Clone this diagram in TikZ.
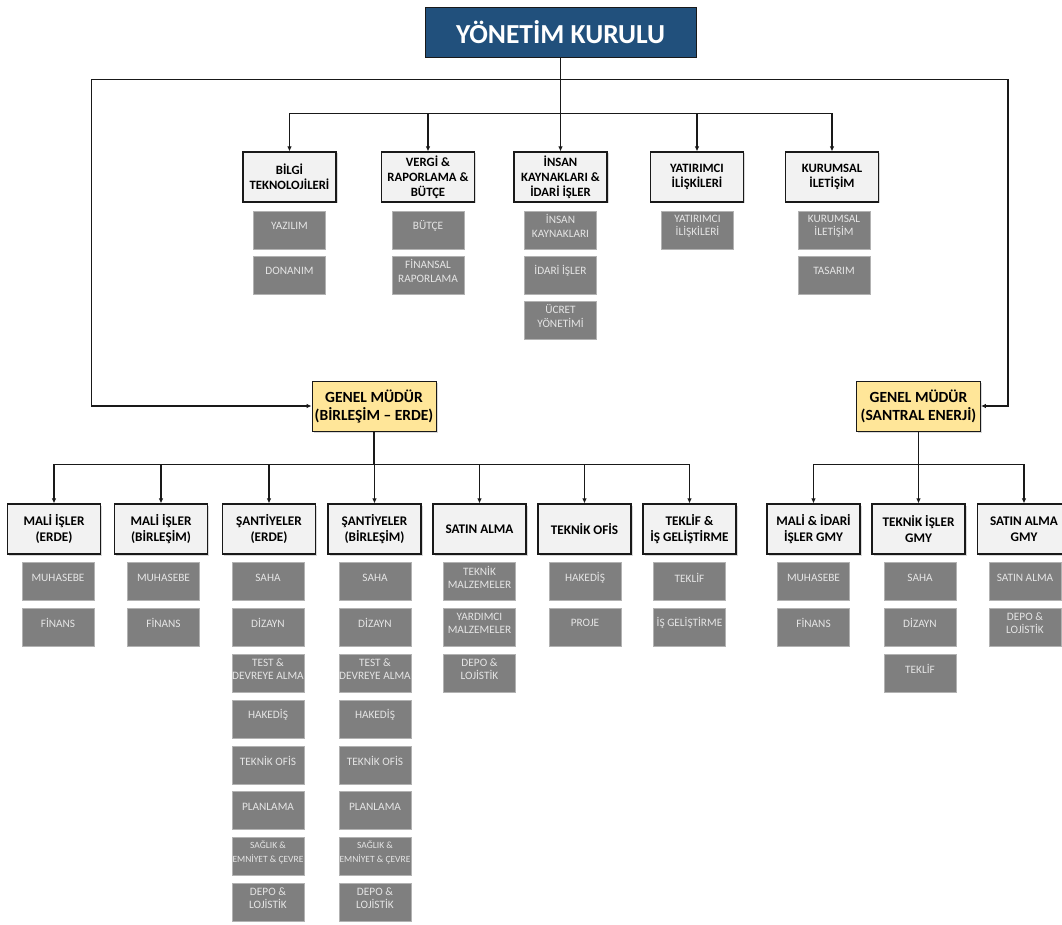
\documentclass[tikz,border=0pt]{standalone}
\usepackage{fontspec}
\setmainfont{Carlito}
\usetikzlibrary{arrows.meta,shadows}

\definecolor{navy}{RGB}{33,80,124}
\definecolor{gold}{RGB}{255,230,153}
\definecolor{paper}{RGB}{242,242,242}
\definecolor{slate}{RGB}{127,127,127}
\definecolor{ink}{RGB}{25,25,25}

\begin{document}
\begin{tikzpicture}
  [x=1pt,y=-1pt,
   board/.style={draw=ink,fill=navy,text=white,minimum width=271pt,minimum height=50pt,
     font=\fontsize{27.5}{32}\selectfont\bfseries},
   gm/.style={draw=ink,fill=gold,line width=.8pt,minimum width=124pt,minimum height=50pt,
     inner sep=1pt,align=center,font=\fontsize{15.5}{18}\selectfont\bfseries,
     drop shadow={shadow xshift=1.5pt,shadow yshift=-1.5pt,opacity=.3}},
   dept/.style={draw=ink,fill=paper,line width=1.1pt,minimum width=93pt,minimum height=50pt,
     inner sep=1pt,align=center,font=\fontsize{12.7}{15}\selectfont\bfseries,
     drop shadow={shadow xshift=1.5pt,shadow yshift=-1.5pt,opacity=.3}},
   branch/.style={dept,font=\fontsize{13.2}{16.5}\selectfont\bfseries},
   sub/.style={fill=slate,draw=slate!60!white,minimum width=72pt,minimum height=38pt,inner sep=0pt},
   subtxt/.style={inner sep=0pt,align=center,text=white!90!black,font=\fontsize{11.3}{13.4}\selectfont},
   arr/.style={draw=ink,line width=1.3pt,-{Latex[length=5pt,width=4.5pt]}}]

  \useasboundingbox (0,0) rectangle (1062,925);
  \clip (0,0) rectangle (1062,925);

  \node[board] (yk) at (560.5,32) {YÖNETİM KURULU};

  % first level
  \node[dept] (bt)  at (289.5,177) {BİLGİ\\TEKNOLOJİLERİ};
  \node[dept] (vrb) at (428,177)   {VERGİ \&\\RAPORLAMA \&\\BÜTÇE};
  \node[dept] (ik)  at (560.5,177) {İNSAN\\KAYNAKLARI \&\\İDARİ İŞLER};
  \node[dept] (yi)  at (697,177)   {YATIRIMCI\\İLİŞKİLERİ};
  \node[dept] (kil) at (832,177)   {KURUMSAL\\İLETİŞİM};

  \foreach \t [count=\i] in {YAZILIM,DONANIM}
    \node[sub] (bt\i) at (289.5,{230+45*(\i-1)}) {}
      node[subtxt] (bt\i t) at ([yshift=4pt]bt\i.center) {\t};
  \foreach \t [count=\i] in {BÜTÇE,FİNANSAL\\RAPORLAMA}
    \node[sub] (vrb\i) at (428,{230+45*(\i-1)}) {}
      node[subtxt] (vrb\i t) at ([yshift=4pt]vrb\i.center) {\t};
  \foreach \t [count=\i] in {İNSAN\\KAYNAKLARI,İDARİ İŞLER,ÜCRET\\YÖNETİMİ}
    \node[sub] (ik\i) at (560.5,{230+45*(\i-1)}) {}
      node[subtxt] (ik\i t) at ([yshift=4pt]ik\i.center) {\t};
  \foreach \t [count=\i] in {YATIRIMCI\\İLİŞKİLERİ}
    \node[sub] (yi\i) at (697.5,{230+45*(\i-1)}) {}
      node[subtxt] (yi\i t) at ([yshift=4pt]yi\i.center) {\t};
  \foreach \t [count=\i] in {KURUMSAL\\İLETİŞİM,TASARIM}
    \node[sub] (kil\i) at (834,{230+45*(\i-1)}) {}
      node[subtxt] (kil\i t) at ([yshift=4pt]kil\i.center) {\t};

  % general managers
  \node[gm] (gm1) at (374,406)   {GENEL MÜDÜR\\(BİRLEŞİM – ERDE)};
  \node[gm] (gm2) at (918.5,406) {GENEL MÜDÜR\\(SANTRAL ENERJİ)};

  % second level
  \node[branch] (me)  at (54,529)    {MALİ İŞLER\\(ERDE)};
  \node[branch] (mb)  at (161,529)   {MALİ İŞLER\\(BİRLEŞİM)};
  \node[branch] (se)  at (269,529)   {ŞANTİYELER\\(ERDE)};
  \node[branch] (sb)  at (374.5,529) {ŞANTİYELER\\(BİRLEŞİM)};
  \node[branch] (sa)  at (479.5,529) {SATIN ALMA};
  \node[branch] (tof) at (584.5,529) {TEKNİK OFİS};
  \node[branch] (tg)  at (689.5,529) {TEKLİF \&\\İŞ GELİŞTİRME};
  \node[branch] (gmi) at (813.5,529) {MALİ \& İDARİ\\İŞLER GMY};
  \node[branch] (gti) at (918.5,529) {TEKNİK İŞLER\\GMY};
  \node[branch] (gsa) at (1024,529)  {SATIN ALMA\\GMY};

  \foreach \t [count=\i] in {MUHASEBE,FİNANS}
    \node[sub] (me\i) at (58,{581.5+45.8*(\i-1)}) {}
      node[subtxt] (me\i t) at ([yshift=4pt]me\i.center) {\t};
  \foreach \t [count=\i] in {MUHASEBE,FİNANS}
    \node[sub] (mb\i) at (163.5,{581.5+45.8*(\i-1)}) {}
      node[subtxt] (mb\i t) at ([yshift=4pt]mb\i.center) {\t};
  \foreach \t [count=\i] in {SAHA,DİZAYN,TEST \&\\DEVREYE ALMA,HAKEDİŞ,TEKNİK OFİS,PLANLAMA,
      \fontsize{9.5}{11.7}\selectfont SAĞLIK \&\\\fontsize{9.5}{11.7}\selectfont EMNİYET \& ÇEVRE,
      DEPO \&\\LOJİSTİK}
    \node[sub] (se\i) at (268,{581.5+45.8*(\i-1)}) {}
      node[subtxt] (se\i t) at ([yshift=4pt]se\i.center) {\t};
  \foreach \t [count=\i] in {SAHA,DİZAYN,TEST \&\\DEVREYE ALMA,HAKEDİŞ,TEKNİK OFİS,PLANLAMA,
      \fontsize{9.5}{11.7}\selectfont SAĞLIK \&\\\fontsize{9.5}{11.7}\selectfont EMNİYET \& ÇEVRE,
      DEPO \&\\LOJİSTİK}
    \node[sub] (sb\i) at (375,{581.5+45.8*(\i-1)}) {}
      node[subtxt] (sb\i t) at ([yshift=4pt]sb\i.center) {\t};
  \foreach \t [count=\i] in {TEKNİK\\MALZEMELER,YARDIMCI\\MALZEMELER,DEPO \&\\LOJİSTİK}
    \node[sub] (sa\i) at (479.5,{581.5+45.8*(\i-1)}) {}
      node[subtxt] (sa\i t) at ([yshift=4pt]sa\i.center) {\t};
  \foreach \t [count=\i] in {HAKEDİŞ,PROJE}
    \node[sub] (tof\i) at (585,{581.5+45.8*(\i-1)}) {}
      node[subtxt] (tof\i t) at ([yshift=4pt]tof\i.center) {\t};
  \foreach \t [count=\i] in {TEKLİF,İŞ GELİŞTİRME}
    \node[sub] (tg\i) at (689.5,{581.5+45.8*(\i-1)}) {}
      node[subtxt] (tg\i t) at ([yshift=4pt]tg\i.center) {\t};
  \foreach \t [count=\i] in {MUHASEBE,FİNANS}
    \node[sub] (gmi\i) at (813.5,{581.5+45.8*(\i-1)}) {}
      node[subtxt] (gmi\i t) at ([yshift=4pt]gmi\i.center) {\t};
  \foreach \t [count=\i] in {SAHA,DİZAYN,TEKLİF}
    \node[sub] (gti\i) at (920,{581.5+45.8*(\i-1)}) {}
      node[subtxt] (gti\i t) at ([yshift=4pt]gti\i.center) {\t};
  \foreach \t [count=\i] in {SATIN ALMA,DEPO \&\\LOJİSTİK}
    \node[sub] (gsa\i) at (1025,{581.5+45.8*(\i-1)}) {}
      node[subtxt] (gsa\i t) at ([yshift=4pt]gsa\i.center) {\t};

  % connectors
  \foreach \to in {bt,vrb,ik,yi,kil}
    \draw[arr] (yk.south) -- ++(0,56) -| (\to.north);
  \draw[arr] (yk.south) -- ++(0,22) -| ([xshift=-220pt]gm1.west) -- (gm1.west);
  \draw[arr] (yk.south) -- ++(0,22) -| ([xshift=27pt]gm2.east) -- (gm2.east);

  \foreach \to in {me,mb,se,sb,sa,tof,tg}
    \draw[arr] (gm1.south) -- ++(0,33) -| (\to.north);
  \foreach \to in {gmi,gti,gsa}
    \draw[arr] (gm2.south) -- ++(0,33) -| (\to.north);

\end{tikzpicture}
\end{document}
